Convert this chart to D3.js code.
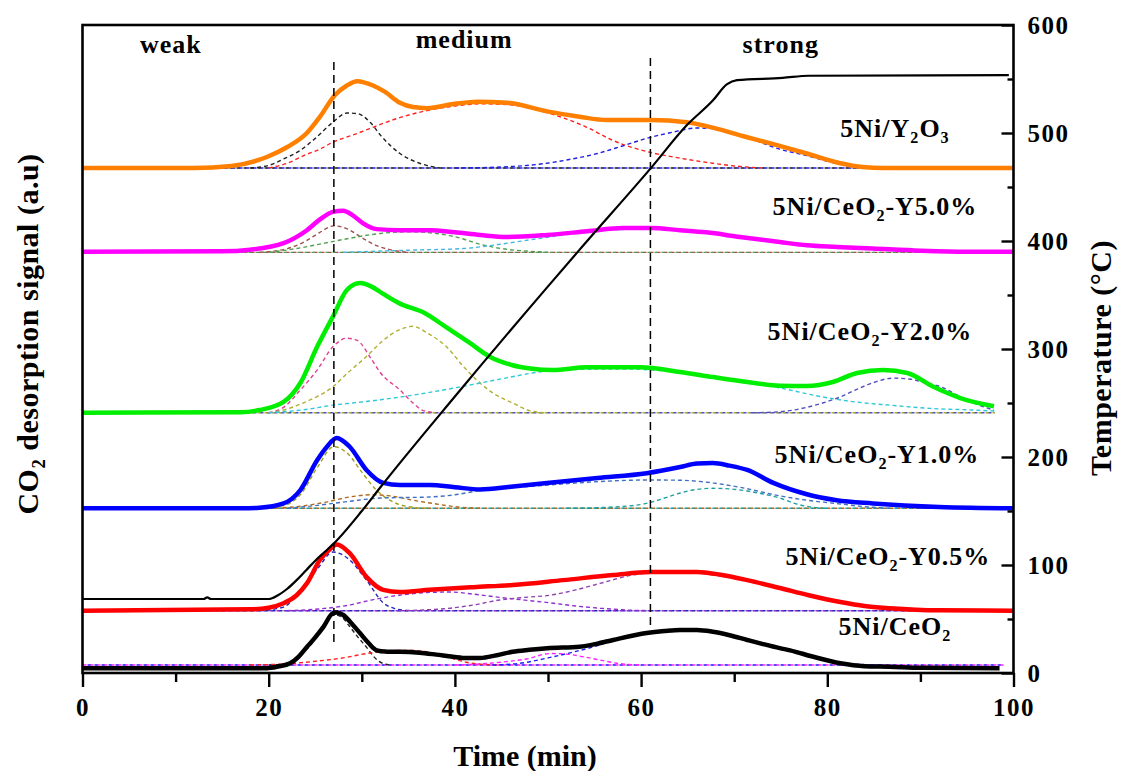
<!DOCTYPE html>
<html><head><meta charset="utf-8">
<script src="https://cdn.jsdelivr.net/npm/d3@7"></script>
<style>html,body{margin:0;padding:0;background:#fff;}svg{display:block;}</style>
</head><body>
<svg id="c" width="1124" height="771"></svg>
<script>
// ---------------- DATA ----------------
const xTicks = [0, 20, 40, 60, 80, 100];
const xMinorTicks = [10, 30, 50, 70, 90];
const tTicks = [0, 100, 200, 300, 400, 500, 600];
const tMinorTicks = [50, 150, 250, 350, 450, 550];
const regionLabels = ["weak", "medium", "strong"];
const regionTimes = [9.5, 41, 75];
const dividerTimes = [27, 61];
const sampleNames = ["5Ni/Y_2O_3", "5Ni/CeO_2-Y5.0%", "5Ni/CeO_2-Y2.0%", "5Ni/CeO_2-Y1.0%", "5Ni/CeO_2-Y0.5%", "5Ni/CeO_2"];
const sampleColors = ["#FF8000", "#FF00FF", "#00EE00", "#0000FF", "#FF0000", "#000000"];

// temperature program (°C vs min)
const temperature = [[0,68.5],[13,68.5],[13.4,70],[13.8,68.5],[20,68.5],[21,72],[22,78],[23,86],[24,95],[25,104],[26,112],[27,120],[30,150],[32,172],[40,256],[50,358],[53.4,392],[61,467],[65,508],[67.7,530],[69.2,545],[70.3,549],[75.2,551],[78,553],[99.5,553.5]];

// CO2 signals (a.u., offset stacks)
const sigY2O3 = [[0,467.6],[12,467.6],[16,469.5],[19.8,477.8],[22,487],[24.1,500],[25.5,515],[27.1,535],[28.4,544],[29.5,548],[31.2,544],[32.5,538],[34.1,528],[35.5,524],[37,523],[40,527],[42.4,529],[45.6,528],[49.9,520],[53.4,515],[56.3,512],[61,512],[64.9,510],[67.7,505],[71,497],[74.5,489],[77.8,481],[81.4,472],[83.8,468.5],[86,467.6],[100,467.6]];
const sigY50 = [[0,390],[15,390.5],[18,392],[21.6,398],[24.1,410],[25.5,420],[26.9,427],[28,428],[29,424],[30.1,416.6],[31.6,411],[34,410],[37.3,410],[40,408],[42.7,405.6],[45.6,403.7],[49.9,405.6],[54.2,409],[58.1,412],[61,412],[64.2,410],[67,408],[70.6,403.7],[74.9,399],[77.8,396],[81,394.5],[84.9,393],[90,391],[95,390],[100,390]];
const sigY20 = [[0,241],[17,241.5],[19,243.5],[21.6,251],[23.4,268.5],[25.2,302],[26.9,330],[28.4,354.6],[29.8,361],[31,358],[32.3,351],[34.1,342],[36.6,334],[39.1,320],[41.6,305.6],[43.8,292.6],[46.2,285],[48.1,282],[50.5,280.5],[54.2,283],[59.9,283],[64.2,278.7],[67.7,274],[71.4,269.4],[74.9,266],[77.8,265.7],[80.6,269.4],[83.2,277.8],[86,280.5],[88.6,277.8],[91.4,265],[94.3,254.6],[97.9,247]];
const sigY10 = [[0,152.5],[17,152.5],[19,153],[21.6,157],[23.4,169.4],[25.2,197],[26.3,210],[27.3,217.6],[28.7,209.5],[30.5,188],[32.3,176],[34.1,174],[37.3,174],[40,172],[42.7,170],[46,172.5],[49.9,176],[55.3,180.6],[60.6,185],[64.2,190.7],[66,194],[67.7,194.4],[69.5,192],[71.4,188],[74.2,176],[77.8,165.5],[81,160],[84.9,157],[92,153.7],[100,152.5]];
const sigY05 = [[0,57.7],[18,59],[20,60.5],[21.6,64.6],[23,72],[24.1,83],[25.5,104.6],[26.5,114],[27.3,119],[28.7,111],[30.5,89],[32.3,77],[34.1,75],[37.3,77],[42,79.5],[46.2,81.5],[51.6,86],[57,90.7],[61,93.5],[66,93.5],[68.5,91],[71.4,86],[74.9,78.7],[78,72],[81.4,65.7],[84,62],[86.7,60],[92,58],[100,57.7]];
const sigCeO2 = [[0,4.3],[19.8,4.5],[21,6],[22.3,9],[23.2,15],[24.1,24],[25,33],[25.9,43],[26.9,55.5],[27.3,56],[28,53.7],[29,45],[29.8,37],[30.7,28],[31.6,21],[32.5,19.8],[34.1,19.7],[36.2,18.8],[38,17],[39.8,15],[41.3,13.8],[42.7,13.9],[44.5,16.5],[46.2,19.7],[48,21.5],[49.9,23],[53.4,24.4],[55.2,27],[57,30.6],[60.6,37],[62.5,38.8],[64.2,39.8],[66,39.8],[67.7,38.2],[69.5,35],[71.4,30.6],[73,27],[74.9,23],[76,21],[78.5,15],[81.4,9],[84,6.3],[86.7,5.8],[90,4.8],[98.5,4.3]];

// fitted components (dashed)
const fitY2O3a = [[18,467.6],[20,470],[21.6,476],[23.4,484],[25,495],[26.9,510],[28.4,518.5],[29.5,518],[31,509],[32,498],[34.1,481],[36.2,472],[38.4,467.6]];
const fitY2O3b = [[20,467.6],[22,472],[24,480],[25.5,485],[27,492],[29,498],[31,504.6],[32,508],[34,514],[36.6,520],[40,525],[43,527],[46,526],[49,521],[51.3,515],[54,506],[57,493],[61,482],[64,477],[67.7,472],[70,469.5],[73,467.6]];
const fitY2O3c = [[40,467.6],[45,468.5],[49.9,472],[52,475],[55.3,481],[58,488],[61,496],[63,500],[66,504.6],[68,504],[70,500],[72,494],[74.9,485],[77.8,479],[81.4,471],[84,468],[86,467.6]];
const fitY50a = [[19,389.5],[22,393],[24,400],[25.5,408],[27,414],[28.5,411],[30,403],[31.5,396],[33,392],[35,389.5]];
const fitY50b = [[20,389.5],[23,393],[26,398],[29,403],[32,407],[35,408.5],[38,407],[40,404],[42.7,397],[45,393],[48,390.5],[50,389.5]];
const fitY50c = [[28,389.5],[35,391.5],[40.9,393],[44,396],[48,401],[52,406],[56,410],[61,411],[65,409.5],[70,404],[75,398.5],[80,394.5],[85,392],[90,390.3],[95,389.5]];
const fitY20a = [[20,241],[21.6,246],[23.4,262],[25.2,280.5],[26.9,302],[28.4,310],[29.5,308],[31,291],[32,278],[34.1,262],[35.5,250],[36.6,243],[38,241]];
const fitY20b = [[20,241],[21.6,243.5],[23.4,249],[25.2,256],[26.9,265],[28.5,278],[30.5,293],[32.3,308],[34.1,318],[35.5,321],[37,315],[39.1,302],[41,283],[42.7,268.5],[44.5,257],[46.2,250],[48,243],[49.5,241]];
const fitY20c = [[20,241],[24,244],[26.9,248],[29,250],[32,253],[36,258],[40,264],[42.7,268.5],[46,274],[49,278.7],[53,281],[58,281.5],[62,280],[66,276],[70.6,271],[74.9,264],[79.5,255.6],[83,251],[86.7,248],[91,245],[95.6,243.5],[98,242.5]];
const fitY20d = [[72,241],[75,242],[77.8,246],[79.5,250],[81.4,255.6],[83,262],[85,269],[87,273],[89,272],[90.5,268.5],[92.2,265],[94,257],[96,249],[97.9,243.5]];
const fitY10a = [[19,152.5],[21.6,155],[23.4,165],[25.2,190],[27,209.5],[28.5,203],[30,186],[31.5,170],[33,160],[35,154],[37,152.5]];
const fitY10b = [[20,152.5],[23,154],[26,158],[28.7,163],[31,165],[33,164],[35.5,160],[38,156.5],[40,154],[42.7,152.5]];
const fitY10c = [[22,152.5],[25,155],[28.7,159],[32,162],[37.3,163],[40,165],[42.7,169],[46,171.5],[49.9,174],[55,177],[60.6,178.7],[64,178.5],[67.7,176],[70.6,172],[74.9,164],[77.8,160],[81.4,156.5],[84,154],[86.7,152.5]];
const fitY10d = [[52,152.5],[57,153.7],[60.6,157],[62.5,162],[64.2,166.7],[66,170],[67.7,171],[69.5,170.5],[71.4,168.5],[73,166],[74.9,162],[76.5,157],[78,154],[80,152.5]];
const fitY05a = [[19,57.7],[21.6,61],[23.4,77],[25.2,96],[26.9,112],[27.8,110],[28.7,104.6],[30.5,86],[32.3,65],[33.4,60],[35,57.7]];
const fitY05b = [[22,57.7],[25,59],[28.7,63],[31,67.5],[34,72],[37,74.5],[39.5,75],[42,73],[44.8,70],[47.5,67.5],[50.2,65],[53,62],[55.6,60],[58,58.5],[61,57.7]];
const fitY05c = [[34,57.7],[37,58.5],[39.5,60],[42,63],[44.8,67.6],[47.5,70],[50.2,72],[53,77],[55.6,83],[59.1,90.7],[62,93],[65,93],[68,90.5],[71.4,85.5],[74.9,78.5],[78,71.5],[81.4,65.5],[84,62],[86.7,60],[92,58],[96,57.7]];
const fitCeO2a = [[20,7.4],[22.3,9],[24.1,22],[25.9,42],[27,54],[27.8,52],[28.7,43],[29.6,33],[30.5,24],[31.2,16],[31.9,10.5],[33,7.4]];
const fitCeO2b = [[18,7.4],[22,8.5],[25.2,11],[28,14],[30.5,18],[33,20.5],[35.2,21],[37.6,18.5],[39.5,14],[41.2,10],[43,8],[45,7.4]];
const fitCeO2c = [[40,7.4],[43,8.5],[45.5,10.5],[47.7,13],[50.2,18],[52,17.5],[53.8,15],[55.6,12],[57.4,9],[60,7.4]];
const fitCeO2d = [[44,7.4],[47,9],[50,14],[53,20],[55.2,25],[57,30],[60.6,36.5],[64.2,39.5],[67.7,38],[71.4,30.5],[74.9,23],[78.5,15],[81.4,9.5],[84,7.8],[86,7.4]];

// baselines: [level, start time, end time]
const baseLevels = [467.6, 389.5, 241, 152.5, 57.7, 7.4];
const baseStart = [13, 0, 13, 19, 0, 0];
const baseEnd = [100, 100, 98, 100, 100, 99];

// ---------------- DRAW ----------------
const FONT = "'Liberation Serif','Times New Roman',serif";
const svg = d3.select("#c");
const L = 82.5, R = 1013.5, T = 25, B = 673;
const x = d3.scaleLinear().domain([0, 100]).range([L, R]);
const yT = d3.scaleLinear().domain([0, 600]).range([B, T]);
const yS = d3.scaleLinear().domain([0, 600]).range([B, T]); // a.u.

const lineS = d3.line().x(d => x(d[0])).y(d => yS(d[1])).curve(d3.curveMonotoneX);
const lineT = d3.line().x(d => x(d[0])).y(d => yT(d[1])).curve(d3.curveMonotoneX);

const mains = [sigY2O3, sigY50, sigY20, sigY10, sigY05, sigCeO2];
const fits = [
  [[fitY2O3a, "#222222"], [fitY2O3b, "#FF2020"], [fitY2O3c, "#2020E0"]],
  [[fitY50a, "#A05050"], [fitY50b, "#50A050"], [fitY50c, "#40B8E0"]],
  [[fitY20a, "#E0408F"], [fitY20b, "#B0B030"], [fitY20c, "#30C8D8"], [fitY20d, "#5050C0"]],
  [[fitY10a, "#A0A020"], [fitY10b, "#B06A20"], [fitY10c, "#4070C0"], [fitY10d, "#20A0A0"]],
  [[fitY05a, "#2020C0"], [fitY05b, "#9030D0"], [fitY05c, "#9040B0"]],
  [[fitCeO2a, "#222222"], [fitCeO2b, "#FF2020"], [fitCeO2c, "#FF20FF"], [fitCeO2d, "#2020FF"]]
];
const baseColors = [["#2020E0", "#222222"], ["#A05050", "#50A050"], ["#5050C0", "#B0B030"], ["#B06A20", "#20A0A0"], ["#2020C0", "#9030D0"], ["#FF20FF", "#2020FF"]];

const g = svg.append("g");
// baselines
baseLevels.forEach((lv, i) => {
  baseColors[i].forEach((c, k) => {
    g.append("path").attr("d", lineS([[baseStart[i], lv], [baseEnd[i], lv]]))
      .attr("fill", "none").attr("stroke", c).attr("stroke-width", 1.4)
      .attr("stroke-dasharray", k === 0 ? "4,3" : "3,4").attr("stroke-dashoffset", k * 2);
  });
});
// components
fits.forEach(set => set.forEach(([d, c]) => {
  g.append("path").attr("d", lineS(d)).attr("fill", "none").attr("stroke", c)
    .attr("stroke-width", 1.4).attr("stroke-dasharray", "4,3");
}));
// main curves
mains.forEach((d, i) => {
  g.append("path").attr("d", lineS(d)).attr("fill", "none").attr("stroke", sampleColors[i])
    .attr("stroke-width", 4.5).attr("stroke-linejoin", "round");
});
// temperature
g.append("path").attr("d", lineT(temperature)).attr("fill", "none").attr("stroke", "#000").attr("stroke-width", 2.2);

// divider lines
const divTop = [62, 58], divBottom = [642, 630];
dividerTimes.forEach((t, i) => {
  svg.append("line").attr("x1", x(t)).attr("x2", x(t)).attr("y1", divTop[i]).attr("y2", divBottom[i])
    .attr("stroke", "#000").attr("stroke-width", 1.5).attr("stroke-dasharray", "8,5");
});

// frame
svg.append("rect").attr("x", L).attr("y", T).attr("width", R - L).attr("height", B - T)
  .attr("fill", "none").attr("stroke", "#000").attr("stroke-width", 2.6);

// bottom axis
const ax = svg.append("g").attr("transform", `translate(0,${B})`)
  .call(d3.axisBottom(x).tickValues(xTicks).tickSize(14).tickPadding(6).tickFormat(d3.format("d")));
svg.append("g").attr("transform", `translate(0,${B})`)
  .call(d3.axisBottom(x).tickValues(xMinorTicks).tickSize(9).tickFormat(""));
// right axis (ticks inward)
const ay = svg.append("g").attr("transform", `translate(${R},0)`)
  .call(d3.axisRight(yT).tickValues(tTicks).tickSize(-12).tickPadding(14).tickFormat(d3.format("d")));
svg.append("g").attr("transform", `translate(${R},0)`)
  .call(d3.axisRight(yT).tickValues(tMinorTicks).tickSize(-6).tickFormat(""));
svg.selectAll(".domain").remove();
svg.selectAll(".tick line").attr("stroke", "#000").attr("stroke-width", 2.4);
svg.selectAll(".tick text").filter(function () { return this.textContent === ""; }).remove();
svg.selectAll(".tick text").attr("font-family", FONT).attr("font-weight", "bold")
  .attr("font-size", 25).attr("letter-spacing", 1.5).attr("fill", "#000");
ax.selectAll(".tick text").attr("dy", "0.9em");
ay.selectAll(".tick text").attr("dy", "0.35em");

// rich text with subscripts (no empty tspans)
function rich(sel, str) {
  const parts = str.split(/(_.)/).filter(p => p);
  let pendingUp = 0;
  parts.forEach(p => {
    if (p[0] === "_") {
      sel.append("tspan").attr("font-size", "0.62em").attr("dy", "0.35em").text(p[1]);
      pendingUp = 1;
    } else {
      const ts = sel.append("tspan").text(p);
      if (pendingUp) { ts.attr("dy", "-0.22em"); pendingUp = 0; }
    }
  });
}

// region labels
const regionY = [53, 48, 53];
regionLabels.forEach((s, i) => {
  svg.append("text").attr("x", x(regionTimes[i])).attr("y", regionY[i]).attr("text-anchor", "middle")
    .attr("font-family", FONT).attr("font-weight", "bold").attr("font-size", 26).attr("letter-spacing", 1)
    .text(s);
});

// sample labels
const labelX = [895, 875, 870, 877, 888, 895];
const labelY = [137, 215, 340, 463, 565, 635];
sampleNames.forEach((s, i) => {
  const t = svg.append("text").attr("x", labelX[i]).attr("y", labelY[i]).attr("text-anchor", "middle")
    .attr("font-family", FONT).attr("font-weight", "bold").attr("font-size", 26).attr("letter-spacing", 1);
  rich(t, s);
});

// axis titles
svg.append("text").attr("x", 525).attr("y", 766).attr("text-anchor", "middle")
  .attr("font-family", FONT).attr("font-weight", "bold").attr("font-size", 30).text("Time (min)");
const lt = svg.append("text").attr("transform", "translate(38,334) rotate(-90)").attr("text-anchor", "middle")
  .attr("font-family", FONT).attr("font-weight", "bold").attr("font-size", 30).attr("letter-spacing", 0.5);
rich(lt, "CO_2 desorption signal (a.u)");
svg.append("text").attr("transform", "translate(1111,358) rotate(-90)").attr("text-anchor", "middle")
  .attr("font-family", FONT).attr("font-weight", "bold").attr("font-size", 30).attr("letter-spacing", 0.5)
  .text("Temperature (\u00B0C)");
</script>
</body></html>
